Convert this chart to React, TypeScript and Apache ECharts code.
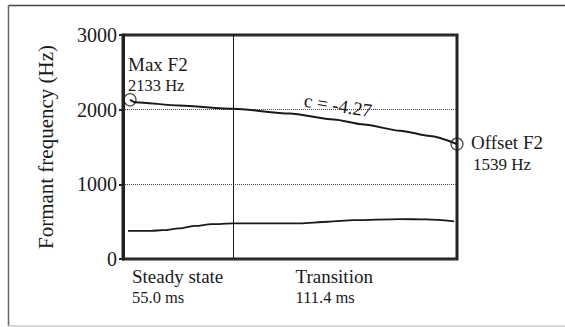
import React, { useEffect, useRef } from "react";
import * as echarts from "echarts";

// ---- data ----
const F2_TIME_MS = [3.5, 6, 28, 55, 83, 105, 120, 138, 153, 166.4];
const F2_HZ = [2133, 2100, 2055, 2013, 1947, 1868, 1801, 1718, 1648, 1539];
const F1_TIME_MS = [2.5, 14, 20, 28, 36, 44, 55, 88, 102, 115, 138, 151, 165];
const F1_HZ = [378, 378, 386, 410, 443, 466, 477, 477, 499, 521, 535, 530, 504];
const Y_TICKS = [0, 1000, 2000, 3000];
const STEADY_STATE_MS = 55.0;
const TRANSITION_MS = 111.4;
const SEGMENT_LABELS = ["Steady state", "Transition"];
const SEGMENT_DURATIONS = [STEADY_STATE_MS, TRANSITION_MS];
const MAX_F2 = { t: 3.5, hz: 2133, label: "Max F2" };
const OFFSET_F2 = { t: 166.4, hz: 1539, label: "Offset F2" };
const SLOPE_LABEL = "c = -4.27";
const Y_TITLE = "Formant frequency (Hz)";

const FONT = "'Liberation Serif', 'Times New Roman', Times, serif";
const INK = "#1a1a1a";
const W = 565;
const H = 327;
const GRID = { left: 123, top: 35, right: 108, bottom: 68 };

export default function App() {
  const ref = useRef<HTMLDivElement>(null);
  useEffect(() => {
    if (!ref.current) return;
    const chart = echarts.init(ref.current, null, { renderer: "svg", width: W, height: H });
    const total = STEADY_STATE_MS + TRANSITION_MS;
    chart.setOption({
      animation: false,
      backgroundColor: "#fff",
      textStyle: { fontFamily: FONT },
      grid: {
        left: GRID.left,
        top: GRID.top,
        right: GRID.right,
        bottom: GRID.bottom,
        show: true,
        borderColor: "#222",
        borderWidth: 3,
        backgroundColor: "transparent",
      },
      xAxis: {
        type: "value",
        min: 0,
        max: total,
        show: false,
        splitLine: { show: false },
      },
      yAxis: {
        type: "value",
        min: Y_TICKS[0],
        max: Y_TICKS[Y_TICKS.length - 1],
        interval: Y_TICKS[1] - Y_TICKS[0],
        name: Y_TITLE,
        nameLocation: "middle",
        nameRotate: 90,
        nameGap: 67,
        nameTextStyle: { fontFamily: FONT, fontSize: 21, color: INK },
        axisLine: { show: true, lineStyle: { color: "#222", width: 3 } },
        axisTick: { show: true, length: 4, lineStyle: { color: "#222", width: 2 } },
        axisLabel: {
          fontFamily: FONT,
          fontSize: 20,
          color: INK,
          margin: 6,
          formatter: (v: number) => String(v),
        },
        splitLine: { show: true, lineStyle: { color: "#444", type: "dotted", width: 1 } },
      },
      series: [
        {
          type: "line",
          name: "F2",
          data: F2_TIME_MS.map((t, i) => [t, F2_HZ[i]]),
          showSymbol: false,
          smooth: 0.25,
          smoothMonotone: "x",
          lineStyle: { color: INK, width: 2 },
          markLine: {
            silent: true,
            symbol: ["none", "none"],
            label: { show: false },
            lineStyle: { color: INK, width: 1, type: "solid" },
            data: [{ xAxis: STEADY_STATE_MS }],
          },
        },
        {
          type: "line",
          name: "F1",
          data: F1_TIME_MS.map((t, i) => [t, F1_HZ[i]]),
          showSymbol: false,
          smooth: 0.3,
          smoothMonotone: "x",
          lineStyle: { color: INK, width: 1.8 },
        },
        {
          type: "scatter",
          data: [
            [MAX_F2.t, MAX_F2.hz],
            [OFFSET_F2.t, OFFSET_F2.hz],
          ],
          symbol: "circle",
          symbolSize: 12,
          itemStyle: { color: "rgba(0,0,0,0)", borderColor: INK, borderWidth: 1.2 },
          z: 5,
        },
      ],
    });

    const px = (t: number, v: number) =>
      chart.convertToPixel({ gridIndex: 0 }, [t, v]) as number[];
    const maxP = px(MAX_F2.t, MAX_F2.hz);
    const offP = px(OFFSET_F2.t, OFFSET_F2.hz);
    const onsetP = px(STEADY_STATE_MS, F2_HZ[F2_TIME_MS.indexOf(STEADY_STATE_MS)]);
    const angle = Math.atan2(offP[1] - onsetP[1], offP[0] - onsetP[0]);

    const txt = (text: string, x: number, y: number, size: number) => ({
      type: "text",
      x,
      y,
      style: {
        text,
        fontFamily: FONT,
        fontSize: size,
        fill: INK,
        align: "left",
        verticalAlign: "middle",
      },
    });

    const gridBottom = H - GRID.bottom;
    const segX = [GRID.left + 9, GRID.left + 172.5];

    chart.setOption({
      graphic: [
        {
          type: "line",
          shape: { x1: 8.5, y1: 5.5, x2: W, y2: 5.5 },
          style: { stroke: "#444", lineWidth: 1.5 },
        },
        {
          type: "line",
          shape: { x1: 8.5, y1: 5.5, x2: 8.5, y2: 326 },
          style: { stroke: "#666", lineWidth: 1.5 },
        },
        {
          type: "line",
          shape: { x1: 8.5, y1: 326, x2: W, y2: 326 },
          style: { stroke: "#c8c8c8", lineWidth: 1.5 },
        },
        txt(MAX_F2.label, maxP[0] - 2, maxP[1] - 35, 19),
        txt(`${MAX_F2.hz} Hz`, maxP[0] - 2, maxP[1] - 14.5, 16.5),
        txt(OFFSET_F2.label, offP[0] + 14, offP[1] - 1.5, 19),
        txt(`${OFFSET_F2.hz} Hz`, offP[0] + 16, offP[1] + 20.5, 17),
        ...SEGMENT_LABELS.flatMap((lab, i) => [
          txt(lab, segX[i], gridBottom + 17.5, 19),
          txt(`${SEGMENT_DURATIONS[i].toFixed(1)} ms`, segX[i], gridBottom + 38.7, 16.5),
        ]),
        {
          type: "text",
          x: 338,
          y: 105.5,
          rotation: -angle,
          style: {
            text: SLOPE_LABEL,
            fontFamily: FONT,
            fontSize: 19,
            fill: INK,
            align: "center",
            verticalAlign: "middle",
          },
          z: 10,
        },
      ],
    });

    return () => chart.dispose();
  }, []);

  return (
    <div
      ref={ref}
      style={{ position: "fixed", left: 0, top: 0, width: W, height: H, background: "#fff" }}
    />
  );
}
